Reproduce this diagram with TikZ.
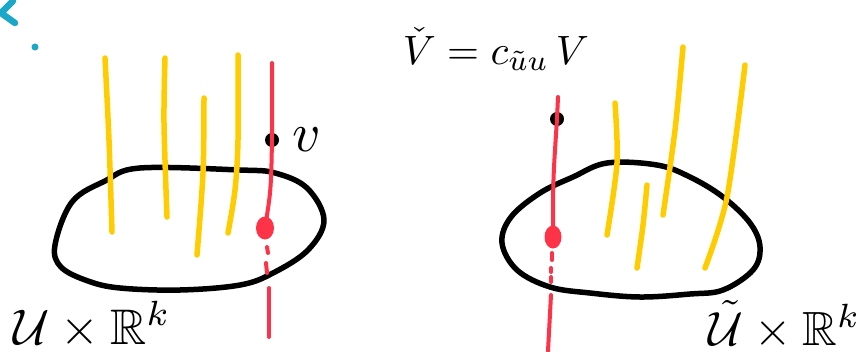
\documentclass[tikz,border=0pt]{standalone}
\usepackage{amssymb}
\definecolor{fibre}{RGB}{255,204,0}
\definecolor{orbit}{RGB}{255,51,72}
\definecolor{ink}{RGB}{0,0,0}
\definecolor{marker}{RGB}{26,167,200}
\tikzset{
  outline/.style={draw=ink, line width=5.5pt, line join=round},
  fibreline/.style={draw=fibre, line width=5.5pt, line cap=round},
  orbitline/.style={draw=orbit, line width=4pt, line cap=round},
  orbitdash/.style={draw=orbit, line width=4pt, line cap=round},
  basepoint/.style={fill=orbit, ellipse, minimum width=18pt, minimum height=23pt, inner sep=0pt},
  fibrepoint/.style={fill=ink, circle, minimum size=14pt, inner sep=0pt},
  label/.style={inner sep=0pt, text=ink},
}
\usetikzlibrary{shapes.geometric}
\begin{document}
\begin{tikzpicture}[x=1pt, y=-1pt]
  \useasboundingbox (0,0) rectangle (858,351);

  % stray marker strokes in the corner
  \draw[draw=marker, line width=6.5pt, line cap=round, line join=round]
    (13,1) -- (1,13) -- (15,23);
  \fill[marker] (35,47) circle (3.5pt);

  % ---------- left chart: U x R^k ----------
  \draw[outline] plot[smooth cycle, tension=0.6] coordinates {
    (140,168) (240,170) (275,173) (307,188) (324,220) (308,250) (273,273)
    (240,285) (180,290) (120,288) (88,281) (61,267) (55,245) (72,202) (105,181)};

  \draw[fibreline] plot[smooth] coordinates {(105,58) (109,140) (112,232)};
  \draw[fibreline] plot[smooth] coordinates {(165,58) (164,123) (167,217)};
  \draw[fibreline] plot[smooth] coordinates {(204,98) (203,173) (197,255)};
  \draw[fibreline] plot[smooth] coordinates {(238,55) (238,140) (235,190) (228,233)};

  \node[fibrepoint] (vL) at (272,140) {};
  \node[basepoint] (pL) at (265,228) {};
  \coordinate (topL) at (272,63);
  \coordinate (botL) at (269,337);
  \draw[orbitline] (topL) .. controls (272,110) .. (vL.center)
                   .. controls (271,190) .. (pL.center);
  \draw[orbitdash] (267,247) -- (268,253);
  \draw[orbitdash] (266,263) -- (267,273);
  \draw[orbitline] (269,288) -- (botL);

  \node[label, scale=5.5, anchor=base west] (vlab) at (291,151) {$v$};
  \node[label, scale=5, anchor=base west] (chartL) at (12,344)
    {$\mathcal{U}\times\mathbb{R}^{k}$};

  % ---------- right chart: tilde U x R^k ----------
  \draw[outline] plot[smooth cycle, tension=0.6] coordinates {
    (607,163) (657,165) (690,177) (723,197) (750,223) (760,247) (753,270)
    (723,290) (690,294) (640,297) (590,293) (550,287) (517,270) (502,243)
    (511,217) (540,193) (573,177)};

  \draw[fibreline] plot[smooth] coordinates {(615,103) (617,163) (607,235)};
  \draw[fibreline] plot[smooth] coordinates {(683,47) (675,130) (663,215)};
  \draw[fibreline] plot[smooth] coordinates {(647,185) (643,225) (637,268)};
  \draw[fibreline] plot[smooth] coordinates {(745,65) (727,197) (705,268)};

  \node[fibrepoint] (vR) at (557,119) {};
  \node[basepoint, minimum width=17pt] (pR) at (553,237) {};
  \coordinate (topR) at (558,97);
  \coordinate (botR) at (548,351);
  \draw[orbitline] (topR) -- (vR.center)
                   .. controls (553,180) .. (pR.center);
  \draw[orbitdash] (552,253) -- (552,260);
  \draw[orbitdash] (551,268) -- (551,272);
  \draw[orbitdash] (551,277) -- (551,282);
  \draw[orbitline] (551,295) -- (botR);

  \node[label, scale=4.1, anchor=base west] (transfer) at (402,64)
    {$\check{V} = c_{\tilde{u}u}\,V$};
  \node[label, scale=4.8, anchor=base west] (chartR) at (708,345)
    {$\tilde{\mathcal{U}}\times\mathbb{R}^{k}$};
\end{tikzpicture}
\end{document}
